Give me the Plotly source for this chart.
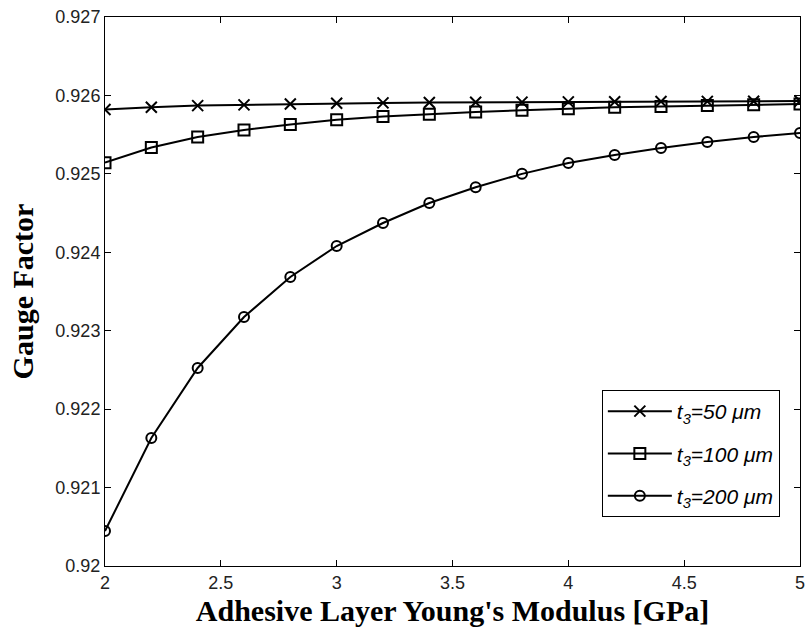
import plotly.graph_objects as go

# Data
modulus_gpa = [2.0, 2.2, 2.4, 2.6, 2.8, 3.0, 3.2, 3.4, 3.6, 3.8, 4.0, 4.2, 4.4, 4.6, 4.8, 5.0]
gf_t50 = [0.92582, 0.92585, 0.92587, 0.92588, 0.92589, 0.92590, 0.925905, 0.92591,
          0.925912, 0.925915, 0.925918, 0.92592, 0.925922, 0.925924, 0.925926, 0.925928]
gf_t100 = [0.925143, 0.925335, 0.92547, 0.92556, 0.92563, 0.92569, 0.92573, 0.92576,
           0.92579, 0.92581, 0.92583, 0.92585, 0.92586, 0.92587, 0.92588, 0.92589]
gf_t200 = [0.920446, 0.921632, 0.922525, 0.923175, 0.923685, 0.92408, 0.924373, 0.924628,
           0.92483, 0.925, 0.925138, 0.92524, 0.92533, 0.925406, 0.92547, 0.92552]

series_names = ["t<sub>3</sub>=50 μm",
                "t<sub>3</sub>=100 μm",
                "t<sub>3</sub>=200 μm"]

x_tick_vals = [2, 2.5, 3, 3.5, 4, 4.5, 5]
x_tick_text = ["2", "2.5", "3", "3.5", "4", "4.5", "5"]
y_tick_vals = [0.920, 0.921, 0.922, 0.923, 0.924, 0.925, 0.926, 0.927]
y_tick_text = ["0.92", "0.921", "0.922", "0.923", "0.924", "0.925", "0.926", "0.927"]

x_title = "Adhesive Layer Young's Modulus [GPa]"
y_title = "Gauge Factor"

fig = go.Figure()
symbols = ["x-thin-open", "square-open", "circle-open"]
sizes = [11, 11, 10]
for i, (ys, name) in enumerate(zip([gf_t50, gf_t100, gf_t200], series_names)):
    fig.add_trace(go.Scatter(
        x=modulus_gpa, y=ys, mode="lines+markers", name=name,
        legendgroup=f"g{i}",
        line=dict(color="black", width=2),
        marker=dict(symbol=symbols[i], size=sizes[i], color="black",
                    line=dict(color="black", width=2)),
    ))

axis_common = dict(
    showline=True, linecolor="black", linewidth=1, mirror="ticks",
    ticks="inside", ticklen=6, tickcolor="black", tickwidth=1,
    showgrid=False, zeroline=False,
    tickfont=dict(family="Liberation Sans, Arial", size=18, color="#222"),
)

fig.update_layout(
    width=812, height=634,
    margin=dict(l=105, r=7, t=17, b=68),
    paper_bgcolor="white", plot_bgcolor="white",
    showlegend=True,
    legend=dict(
        x=0.971, y=0.3206, xanchor="right", yanchor="top",
        bordercolor="black", borderwidth=1, bgcolor="white",
        font=dict(family="Liberation Sans, Arial", size=21, color="black",
                  style="italic"),
        tracegroupgap=12,
        itemwidth=64,
    ),
    xaxis=dict(
        range=[2, 5], tickvals=x_tick_vals, ticktext=x_tick_text,
        title=dict(text=x_title, standoff=8,
                   font=dict(family="Liberation Serif, Times New Roman", size=30,
                             color="black", weight="bold")),
        **axis_common,
    ),
    yaxis=dict(
        range=[0.920, 0.927], tickvals=y_tick_vals, ticktext=y_tick_text,
        title=dict(text=y_title, standoff=12,
                   font=dict(family="Liberation Serif, Times New Roman", size=30,
                             color="black", weight="bold")),
        **axis_common,
    ),
)

fig.write_html("out.html")
